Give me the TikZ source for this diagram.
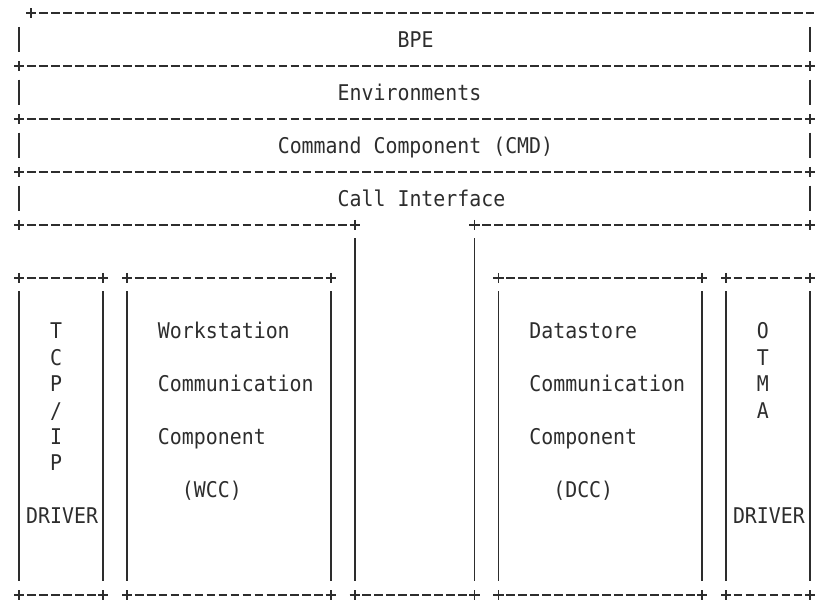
\documentclass[tikz,border=0pt]{standalone}
\usepackage{fontspec}
\newfontfamily\asciifont[FakeStretch=0.918]{DejaVu Sans Mono}
\definecolor{ink}{RGB}{45,45,45}

\newcommand\plus[2]{\draw ({#1-0.42},#2) -- ({#1+0.42},#2) (#1,{#2-0.19}) -- (#1,{#2+0.19});}

\begin{document}
\begin{tikzpicture}[x=8.985pt, y=-19.84pt, line width=1.4pt, draw=ink,
	dashrow/.style={dash pattern=on 6.65pt off 2.34pt},
	lbl/.style={font=\asciifont\fontsize{16.25}{19.84}\selectfont, text=ink, anchor=base west, inner sep=0pt}]
	\useasboundingbox (-1.611, -0.503) rectangle (66.59, 22.37);
	\clip (-1.611, -0.503) rectangle (66.59, 22.37);

	% upper layers
	\draw [dashrow] (1.63, 0) -- (66.37, 0);
	\plus{1}{0} \plus{67}{0}
	\foreach \r in {2, 4, 6} {
		\draw [dashrow] (0.63, \r) -- (65.37, \r);
		\plus{0}{\r} \plus{66}{\r}
	}
	\foreach \r in {1, 3, 5, 7} {
		\draw (0, \r-0.49) -- (0, \r+0.47);
		\draw (66, \r-0.49) -- (66, \r+0.47);
	}
	\draw [dashrow] (0.63, 8) -- (27.37, 8);
	\draw [dashrow] (38.63, 8) -- (65.37, 8);
	\plus{0}{8} \plus{28}{8} \plus{38}{8} \plus{66}{8}

	\node [lbl] (bpe) at (31.5, 1.3) {BPE};
	\node [lbl] (env) at (26.5, 3.3) {Environments};
	\node [lbl] (cmd) at (21.5, 5.3) {Command Component (CMD)};
	\node [lbl] (call) at (26.5, 7.3) {Call Interface};

	% lower boxes
	\foreach \a/\b in {0/7, 9/26, 40/57, 59/66} {
		\draw [dashrow] (\a+0.63, 10) -- (\b-0.63, 10);
		\draw [dashrow] (\a+0.63, 22) -- (\b-0.63, 22);
		\plus{\a}{10} \plus{\b}{10} \plus{\a}{22} \plus{\b}{22}
		\draw (\a, 10.51) -- (\a, 21.47);
		\draw (\b, 10.51) -- (\b, 21.47);
	}
	\draw [dashrow] (28.63, 22) -- (37.37, 22);
	\plus{28}{22} \plus{38}{22}
	\draw (28, 8.51) -- (28, 21.47);
	\draw (38, 8.51) -- (38, 21.47);

	\foreach \ch [count=\i from 12] in {T, C, P, /, I, P}
		\node [lbl] (tcp\i) at (2.5, \i+0.3) {\ch};
	\node [lbl] (tcpdrv) at (0.5, 19.3) {DRIVER};

	\node [lbl] (wcc1) at (11.5, 12.3) {Workstation};
	\node [lbl] (wcc2) at (11.5, 14.3) {Communication};
	\node [lbl] (wcc3) at (11.5, 16.3) {Component};
	\node [lbl] (wcc4) at (13.5, 18.3) {(WCC)};

	\node [lbl] (dcc1) at (42.5, 12.3) {Datastore};
	\node [lbl] (dcc2) at (42.5, 14.3) {Communication};
	\node [lbl] (dcc3) at (42.5, 16.3) {Component};
	\node [lbl] (dcc4) at (44.5, 18.3) {(DCC)};

	\foreach \ch [count=\i from 12] in {O, T, M, A}
		\node [lbl] (otma\i) at (61.5, \i+0.3) {\ch};
	\node [lbl] (otmadrv) at (59.5, 19.3) {DRIVER};
\end{tikzpicture}
\end{document}
